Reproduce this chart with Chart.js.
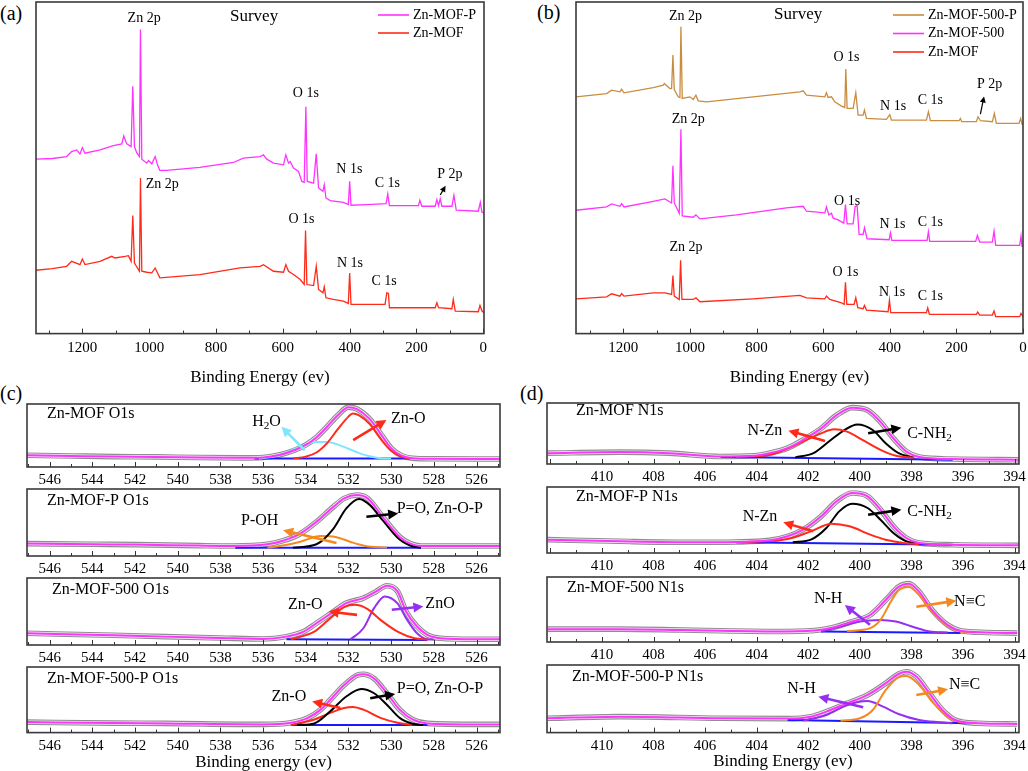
<!DOCTYPE html>
<html>
<head>
<meta charset="utf-8">
<script src="https://cdn.jsdelivr.net/npm/chart.js@4.4.1/dist/chart.umd.min.js"></script>
<style>
  body { margin:0; background:#fff; width:1028px; height:771px; position:relative; overflow:hidden; font-family:"Liberation Serif", "Times New Roman", serif; }
  canvas { position:absolute; }
  .tag { position:absolute; font-size:20px; line-height:20px; color:#000; }
</style>
</head>
<body>
<div class="tag" style="left:0px;top:3px">(a)</div>
<div class="tag" style="left:537px;top:2px">(b)</div>
<div class="tag" style="left:0px;top:383px">(c)</div>
<div class="tag" style="left:520px;top:383px">(d)</div>
<script>
// Обзорные спектры (a): [энергия связи, интенсивность]
const aMofP = [[1339,52.6],[1290,52.8],[1247,53.4],[1232,54.9],[1217,55.4],[1207,54.2],[1200,56.1],[1192,54.4],[1147,55.4],[1107,56.7],[1082,57.2],[1076,59.6],[1067,57.2],[1054,56.4],[1049,74.6],[1044,56.4],[1037,54.5],[1029,53.4],[1026,91.7],[1022,52.6],[1007,51.4],[1002,52.2],[992,51.2],[982,53.4],[975,50.9],[968,49.2],[948,49.2],[848,50.1],[748,51.6],[718,52.9],[668,53.4],[658,53.9],[648,52.6],[628,51.4],[598,50.9],[591,53.9],[583,51.4],[578,51.9],[568,49.9],[553,48.9],[543,45.9],[536,45.6],[531,68.4],[527,45.9],[508,45.4],[500,54.2],[493,43.9],[480,42.9],[476,44.9],[471,40.9],[458,40.1],[419,39.6],[404,38.9],[400,45.9],[396,38.7],[349,38.9],[291,39.2],[286,42.1],[281,38.6],[194,38.6],[190,40.2],[184,38.4],[144,38.4],[139,40.4],[134,38.6],[129,40.7],[124,38.4],[94,38.4],[88,41.7],[81,37.2],[15,36.9],[9,39.6],[4,36.6],[-2,36.4]];
const aMof = [[1339,19.1],[1290,19.6],[1247,20.3],[1232,21.8],[1207,20.8],[1200,22.5],[1192,20.8],[1147,21.8],[1112,23.3],[1102,22.8],[1072,23.3],[1062,23.5],[1054,21.8],[1049,35.6],[1044,21.3],[1029,18.8],[1026,46.9],[1022,18.8],[1007,18.5],[992,18.3],[982,19.8],[968,16.8],[848,17.8],[728,19.8],[668,20.3],[658,20.8],[628,18.8],[598,18.5],[591,20.8],[583,18.8],[568,17.8],[548,16.3],[536,14.8],[532,31.1],[528,14.8],[508,14.5],[500,20.3],[493,13.3],[480,12.3],[476,14.1],[471,10.8],[449,10.3],[419,9.8],[404,9.1],[400,18.3],[396,8.8],[294,8.8],[289,12.3],[284,12.1],[281,7.8],[144,7.8],[139,9.3],[134,7.8],[94,7.5],[90,10.3],[84,6.8],[15,6.6],[10,8.5],[4,6.8],[-2,6.3]];

// Обзорные спектры (b)
const bMof500P = [[1342,71.4],[1250,72.4],[1235,73.4],[1210,72.9],[1205,73.7],[1198,72.6],[1110,74.2],[1080,74.9],[1077,75.4],[1060,73.9],[1055,73.9],[1051,84.0],[1047,73.6],[1035,71.4],[1030,71.2],[1027,92.5],[1023,70.9],[1000,71.4],[990,70.6],[982,71.9],[975,70.2],[950,69.9],[810,71.4],[670,72.9],[660,73.2],[650,71.9],[595,71.4],[590,72.6],[585,71.2],[575,71.4],[565,69.9],[545,68.6],[535,68.2],[532,79.8],[528,67.9],[510,67.9],[502,72.6],[495,65.9],[480,65.9],[476,67.4],[470,64.9],[410,64.6],[400,66.0],[395,64.4],[290,64.4],[284,66.9],[278,64.2],[192,64.2],[188,64.9],[184,63.9],[140,63.9],[135,65.4],[128,64.2],[92,63.9],[86,66.4],[80,63.4],[12,63.4],[7,64.9],[3,63.2],[0,63.2]];
const bMof500 = [[1342,37.2],[1250,38.2],[1235,39.1],[1210,38.4],[1205,39.2],[1198,38.2],[1110,39.9],[1075,40.6],[1055,39.4],[1051,50.6],[1047,39.4],[1032,36.3],[1027,61.6],[1023,35.5],[990,35.1],[982,35.8],[970,34.6],[860,35.8],[710,37.9],[660,38.4],[650,36.9],[595,36.4],[590,38.2],[583,35.8],[575,36.3],[570,34.8],[555,34.3],[538,33.3],[533,38.9],[528,33.1],[510,33.1],[504,38.3],[498,38.6],[492,29.9],[480,29.9],[476,31.9],[468,28.6],[402,28.3],[398,30.4],[394,28.1],[288,28.1],[284,30.7],[280,27.8],[142,27.8],[137,29.6],[130,27.6],[92,27.6],[87,30.9],[82,26.6],[10,26.6],[6,29.4],[3,26.3],[0,26.3]];
const bMof = [[1342,10.5],[1250,11.1],[1235,12.0],[1210,11.3],[1205,12.1],[1198,11.3],[1110,12.3],[1075,12.3],[1055,11.8],[1051,17.5],[1047,11.3],[1032,10.3],[1028,22.1],[1024,10.3],[990,10.3],[982,10.8],[970,9.6],[810,10.5],[670,11.5],[650,10.8],[595,10.5],[590,11.3],[580,10.3],[545,9.3],[537,8.8],[533,15.5],[529,8.8],[507,8.8],[502,10.8],[496,7.8],[480,7.5],[476,8.5],[470,7.1],[405,6.6],[401,10.1],[397,6.3],[290,6.3],[286,7.8],[281,5.8],[140,5.8],[136,6.5],[130,5.6],[92,5.6],[87,6.8],[82,5.1],[10,5.1],[6,6.1],[0,5.1]];

// O1s (c)
const o1sMofRaw = [[547.1,18.6],[545,17.5],[543,16.5],[541,16],[539,15],[537,14.5],[536,15.2],[535.2,19.5],[534.5,27],[534,35],[533.5,47],[533,64],[532.5,82],[532,95],[531.6,92],[531,76],[530.5,53],[530,30],[529.5,18],[529,14],[528,13],[526,12.8],[524.9,12.8]];
const o1sMofZnO = [[534.6,13.3],[534,16.5],[533.5,23],[533,38],[532.5,60],[532,80],[531.8,85],[531.5,82],[531,68],[530.5,45],[530,26],[529.5,16],[529.1,13.3]];
const o1sMofH2O = [[536.2,13.3],[535.5,16.5],[535,21.5],[534.5,29],[534,35.5],[533.5,39.5],[533,39.5],[532.5,35.5],[532,29],[531.5,22],[531,17],[530.5,14],[530,13.3]];
const o1sMofBase = [[536.4,13.3],[529.1,13.3]];

const o1sMofPRaw = [[547.1,18.5],[544,17.5],[542,17],[539,15.5],[537.4,15],[535.8,17.5],[535.1,22.5],[534.3,32.5],[533.5,51],[532.7,73.5],[532.2,86],[531.6,91],[531.1,86],[530.4,58.5],[529.6,28.5],[529.1,18.5],[528.6,15],[526,15],[524.9,15]];
const o1sMofPPO = [[534.6,12.5],[533.5,17.5],[532.7,41],[532.1,71],[531.5,85],[531,76],[530.4,53.5],[529.6,24.5],[529,14.5],[528.6,12.5]];
const o1sMofPOH = [[535.8,12.5],[535,16],[534.3,21],[533.3,30],[532.6,28.5],[531.9,21],[531.2,15],[530.2,12.5]];
const o1sMofPBase = [[537.3,12.5],[528.6,12.5]];

const o1s500Raw = [[547.1,17.5],[543,14.5],[540.6,12.5],[538,10.5],[536,9],[534.9,12.5],[534.1,20],[533.5,32.5],[532.8,47.5],[532.1,62.5],[531.3,70],[530.7,80],[530.2,88.5],[529.7,80],[529.3,50],[528.8,28],[528.3,15],[527.7,10],[526,8.5],[524.9,8.5]];
const o1s500ZnO = [[534.7,8.5],[533.6,20],[532.85,40],[532.2,56.5],[531.7,60],[531.1,53.5],[530.5,37.5],[529.7,20],[528.9,10],[528.3,8]];
const o1s500Oxide = [[531.9,8.5],[531.3,25],[530.8,55],[530.3,72.5],[529.7,62],[529.3,40],[528.8,18],[528.3,8.5],[528,8]];
const o1s500Base = [[534.9,8.5],[528.3,7.5]];

const o1s500PRaw = [[547.1,16],[543,14.5],[540.6,14],[536,12.5],[534.7,15],[533.9,22.5],[533.3,35],[532.85,50],[532.2,72.5],[531.6,87.5],[531.3,89],[530.8,82.5],[530.2,60],[529.6,35],[529,20],[528.3,14],[526,12.5],[524.9,12.5]];
const o1s500PPO = [[534.4,11.5],[533.6,14],[532.85,32.5],[532.1,55],[531.4,66.5],[530.8,60],[530.2,42.5],[529.6,22.5],[529,13.5],[528.5,11.5]];
const o1s500PZnO = [[534.7,11.5],[533.6,20],[532.85,30],[532.2,37.5],[531.8,39],[531.3,35],[530.5,22.5],[529.7,15],[529,11.5]];
const o1s500PBase = [[534.7,11.5],[528.3,11.5]];

// N1s (d)
const n1sMofRaw = [[412.1,17.8],[409.3,19.5],[407.4,17.8],[405.4,12.4],[404.1,13.5],[403.5,17.8],[402.8,26],[402.2,39.5],[401.5,58.4],[400.9,80],[400.3,92.4],[399.7,88],[399.2,69],[398.7,42],[398.2,20.5],[397.7,11.4],[396.4,8.1],[393.8,7]];
const n1sMofNZn = [[404.8,11.4],[403.5,15],[402.2,36.8],[401.5,50.3],[401,56.8],[400.5,53],[399.9,39.5],[399.2,23.2],[398.6,13.5],[397.9,10.3]];
const n1sMofCNH2 = [[402.5,10.8],[401.8,17.8],[401.2,36.8],[400.6,55.7],[400.1,64.9],[399.5,55.7],[399,34],[398.5,17.8],[397.9,10.3]];
const n1sMofBase = [[405.4,11.4],[396.4,7]];

const n1sMofPRaw = [[412.1,20.2],[409.3,17.7],[406.7,16.2],[404.8,16.7],[403.5,19.2],[402.8,25.3],[402.2,35.4],[401.5,55.6],[400.9,78.3],[400.3,90.9],[399.7,85.9],[399.2,65.7],[398.7,40.4],[398.2,22.7],[397.7,15.2],[396.4,12.6],[393.8,11.6]];
const n1sMofPNZn = [[404.8,16.2],[402.8,21.2],[401.9,32.8],[401.1,44.4],[400.4,40.4],[399.6,27.8],[399,20.2],[398.3,15.2],[397.7,13.6]];
const n1sMofPCNH2 = [[402.6,16.2],[401.9,20.2],[401.3,37.9],[400.8,63.1],[400.3,74.7],[399.7,68.2],[399.2,50.5],[398.7,30.3],[398.2,17.7],[397.8,15]];
const n1sMofPBase = [[404.8,16.2],[396.4,12.6]];

const n1s500Raw = [[412.1,19.8],[409.3,19.8],[405.4,17.3],[402.8,16.2],[401.5,18.8],[400.9,23.9],[400.3,31.5],[399.6,41.6],[399,64.5],[398.5,84.8],[398.1,89.8],[397.7,77.2],[397.2,49.2],[396.6,26.4],[396.1,17.3],[395.1,14.7],[393.9,13.7]];
const n1s500NC = [[400.5,16.8],[399.6,21.3],[399.2,34],[398.8,61.9],[398.5,79.7],[398.1,84.8],[397.7,72.1],[397.2,46.7],[396.6,24.9],[396.1,16.2],[395.6,14.7]];
const n1s500NH = [[401.5,16.2],[400.75,23.9],[400,31.5],[399.2,34],[398.6,31.5],[397.9,22.8],[397.3,16.2],[396.6,14.7]];
const n1s500Base = [[401.5,16.2],[396.1,13.7]];

const n1s500PRaw = [[412.1,21.2],[409.3,23.6],[405.4,21.2],[402.8,20.7],[401.9,23.6],[401.3,31],[400.5,43.3],[399.7,55.7],[399,72.9],[398.5,86.7],[398.2,90.1],[397.8,82.8],[397.3,58.1],[396.8,33.5],[396.3,18.7],[395.4,13.8],[393.9,12.8]];
const n1s500PNC = [[400.75,17.7],[400,21.2],[399.5,33.5],[399,63],[398.5,81.8],[398.2,83.7],[397.7,70.4],[397.2,45.8],[396.6,23.6],[396.1,15.3],[395.6,13.8]];
const n1s500PNH = [[402.2,17.7],[401.3,26.1],[400.5,40.9],[399.7,46.8],[399.1,38.4],[398.5,27.6],[397.7,18.7],[396.9,15.3],[396.4,13.8]];
const n1s500PBase = [[402.8,18.7],[395.7,13.8]];

// Цвета
const MAGENTA = '#ff33ff', RED = '#ff2a1a', BROWN = '#c98d40', BLUE = '#1a1aff';
const CYAN = '#80e6ff', ORANGE = '#f5891f', PURPLE = '#9431f0', BLACK = '#000000';
const FONT = '"Liberation Serif", "Times New Roman", serif';

// Текст с нижним индексом: "H_2O"
function drawLabel(ctx, str, x, y, size, align) {
    const parts = [];
    for (let i = 0; i < str.length; i++) {
        if (str[i] === '_') { parts.push([str[i + 1], true]); i++; }
        else if (parts.length && !parts[parts.length - 1][1]) parts[parts.length - 1][0] += str[i];
        else parts.push([str[i], false]);
    }
    let w = 0;
    parts.forEach(p => { ctx.font = (p[1] ? size * 0.7 : size) + 'px ' + FONT; w += ctx.measureText(p[0]).width; });
    let cx = align === 'left' ? x : x - w / 2;
    ctx.textAlign = 'left';
    ctx.textBaseline = 'middle';
    ctx.fillStyle = '#000';
    parts.forEach(p => {
        ctx.font = (p[1] ? size * 0.7 : size) + 'px ' + FONT;
        ctx.fillText(p[0], cx, p[1] ? y + size * 0.3 : y);
        cx += ctx.measureText(p[0]).width;
    });
}

function drawArrow(ctx, x1, y1, x2, y2, color, small) {
    const ang = Math.atan2(y2 - y1, x2 - x1);
    const head = small ? 6 : 10, hw = small ? 3 : 5;
    ctx.strokeStyle = color;
    ctx.fillStyle = color;
    ctx.lineWidth = small ? 1.2 : 2.6;
    ctx.beginPath();
    ctx.moveTo(x1, y1);
    ctx.lineTo(x2 - Math.cos(ang) * head * 0.8, y2 - Math.sin(ang) * head * 0.8);
    ctx.stroke();
    ctx.beginPath();
    ctx.moveTo(x2, y2);
    ctx.lineTo(x2 - head * Math.cos(ang) + hw * Math.sin(ang), y2 - head * Math.sin(ang) - hw * Math.cos(ang));
    ctx.lineTo(x2 - head * Math.cos(ang) - hw * Math.sin(ang), y2 - head * Math.sin(ang) + hw * Math.cos(ang));
    ctx.closePath();
    ctx.fill();
}

// Плагин: рамка, внутренние засечки, подписи, стрелки, легенда
const decorPlugin = {
    id: 'decor',
    afterDatasetsDraw(chart, args, opts) {
        const ctx = chart.ctx, a = chart.chartArea, xs = chart.scales.x;
        ctx.save();
        ctx.strokeStyle = '#333';
        ctx.lineWidth = 1;
        const start = Math.ceil(xs.min / opts.minor) * opts.minor;
        for (let v = start; v <= xs.max + 1e-9; v += opts.minor) {
            const px = Math.round(xs.getPixelForValue(v)) + 0.5;
            const r = v / opts.major;
            const len = Math.abs(r - Math.round(r)) < 1e-6 ? 5 : 3;
            ctx.beginPath();
            ctx.moveTo(px, a.bottom);
            ctx.lineTo(px, a.bottom - len);
            ctx.stroke();
        }
        ctx.lineWidth = 1.6;
        ctx.strokeStyle = '#3a3a3a';
        ctx.strokeRect(a.left, a.top, a.right - a.left, a.bottom - a.top);
        ctx.restore();
    },
    afterDraw(chart, args, opts) {
        const ctx = chart.ctx, a = chart.chartArea, xs = chart.scales.x, ys = chart.scales.y;
        ctx.save();
        (opts.arrows || []).forEach(ar => {
            drawArrow(ctx, xs.getPixelForValue(ar.x1), ys.getPixelForValue(ar.y1),
                xs.getPixelForValue(ar.x2), ys.getPixelForValue(ar.y2), ar.color, ar.small);
        });
        (opts.texts || []).forEach(t => {
            drawLabel(ctx, t.t, xs.getPixelForValue(t.x), ys.getPixelForValue(t.y), t.size || 16, 'center');
        });
        (opts.notes || []).forEach(n => {
            drawLabel(ctx, n.t, a.left + n.dx, a.top + n.dy, n.size || 16, 'left');
        });
        (opts.legend || []).forEach((l, i) => {
            const y = a.top + opts.legendTop + i * opts.legendStep;
            ctx.strokeStyle = l.color;
            ctx.lineWidth = 1.6;
            ctx.beginPath();
            ctx.moveTo(a.right - opts.legendX, y);
            ctx.lineTo(a.right - opts.legendX + 31, y);
            ctx.stroke();
            drawLabel(ctx, l.t, a.right - opts.legendX + 35, y, 14, 'left');
        });
        ctx.restore();
    }
};
Chart.register(decorPlugin);

function line(data, color, width, order, smooth) {
    return {
        data: data.map(p => ({ x: p[0], y: p[1] })),
        borderColor: color,
        borderWidth: width,
        pointRadius: 0,
        fill: false,
        order: order,
        tension: 0,
        cubicInterpolationMode: smooth ? 'monotone' : 'default'
    };
}

// Экспериментальные точки + огибающая
function spectrum(raw) {
    return [
        line(raw, '#8e8e8e', 5.6, 10, true),
        line(raw, '#f0f0f0', 3.4, 9, true),
        line(raw, MAGENTA, 2, 1, true)
    ];
}

function makePanel(cfg) {
    const padL = cfg.padL || 2, padR = cfg.padR || 2, padT = 2;
    let axisH = 18 + 2 * cfg.tickPad;
    if (cfg.title) axisH += 17 * 1.2 + cfg.titlePad[0] + cfg.titlePad[1];
    const cv = document.createElement('canvas');
    const w = cfg.area.r - cfg.area.l + padL + padR;
    const h = Math.round(cfg.area.b - cfg.area.t + padT + axisH);
    cv.width = w;
    cv.height = h;
    cv.style.left = (cfg.area.l - padL) + 'px';
    cv.style.top = (cfg.area.t - padT) + 'px';
    cv.style.width = w + 'px';
    cv.style.height = h + 'px';
    document.body.appendChild(cv);

    return new Chart(cv, {
        type: 'line',
        data: { datasets: cfg.datasets },
        options: {
            responsive: false,
            animation: false,
            layout: { padding: { left: padL, right: padR, top: padT, bottom: 0 } },
            plugins: {
                legend: { display: false },
                tooltip: { enabled: false },
                decor: Object.assign({ major: cfg.major, minor: cfg.minor }, cfg.decor)
            },
            scales: {
                x: {
                    type: 'linear',
                    reverse: true,
                    min: cfg.xMin,
                    max: cfg.xMax,
                    grid: { display: false, drawTicks: false },
                    border: { display: false },
                    ticks: {
                        stepSize: cfg.major,
                        includeBounds: false,
                        autoSkip: false,
                        maxRotation: 0,
                        padding: cfg.tickPad,
                        color: '#000',
                        font: { family: FONT, size: 15, lineHeight: 1.2 },
                        callback: v => (cfg.hideAbove !== undefined && v > cfg.hideAbove) ? '' : String(v)
                    },
                    title: {
                        display: !!cfg.title,
                        text: cfg.title || '',
                        color: '#000',
                        font: { family: FONT, size: 17, lineHeight: 1.2 },
                        padding: { top: cfg.title ? cfg.titlePad[0] : 0, bottom: cfg.title ? cfg.titlePad[1] : 0 }
                    },
                    afterFit: s => { s.paddingLeft = 0; s.paddingRight = 0; }
                },
                y: { display: false, min: 0, max: 100 }
            }
        }
    });
}

// (a) обзор
makePanel({
    area: { l: 36, r: 484, t: 2, b: 334 }, padR: 6,
    xMin: -2, xMax: 1338.6, major: 200, minor: 100, tickPad: 5,
    title: 'Binding Energy (ev)', titlePad: [6, 2],
    datasets: [line(aMofP, MAGENTA, 1.3, 1, false), line(aMof, RED, 1.3, 2, false)],
    decor: {
        texts: [
            { t: 'Zn 2p', x: 1015, y: 95, size: 14 }, { t: 'Survey', x: 686, y: 95.5, size: 17 },
            { t: 'O 1s', x: 531, y: 72.4, size: 14 }, { t: 'N 1s', x: 401, y: 49.4, size: 14 },
            { t: 'C 1s', x: 287, y: 45.2, size: 14 }, { t: 'P 2p', x: 100, y: 47.9, size: 14 },
            { t: 'Zn 2p', x: 961, y: 44.9, size: 14 }, { t: 'O 1s', x: 544, y: 34.4, size: 14 },
            { t: 'N 1s', x: 399, y: 21.3, size: 14 }, { t: 'C 1s', x: 297, y: 15.8, size: 14 }
        ],
        arrows: [{ x1: 129, y1: 41.8, x2: 113, y2: 44.6, color: BLACK, small: true }],
        legend: [{ t: 'Zn-MOF-P', color: MAGENTA }, { t: 'Zn-MOF', color: RED }],
        legendX: 106, legendTop: 13, legendStep: 18
    }
});

// (b) обзор
makePanel({
    area: { l: 576, r: 1023, t: 2, b: 334 }, padR: 5,
    xMin: 0, xMax: 1342, major: 200, minor: 100, tickPad: 5,
    title: 'Binding Energy (ev)', titlePad: [6, 2],
    datasets: [line(bMof500P, BROWN, 1.3, 1, false), line(bMof500, MAGENTA, 1.3, 2, false), line(bMof, RED, 1.3, 3, false)],
    decor: {
        texts: [
            { t: 'Zn 2p', x: 1013, y: 95.7, size: 14 }, { t: 'Survey', x: 675, y: 96.3, size: 17 },
            { t: 'O 1s', x: 530, y: 83.3, size: 14 }, { t: 'N 1s', x: 390, y: 68.6, size: 14 },
            { t: 'C 1s', x: 278, y: 70.4, size: 14 }, { t: 'P 2p', x: 100, y: 75.3, size: 14 },
            { t: 'Zn 2p', x: 1005, y: 64.6, size: 14 }, { t: 'O 1s', x: 528, y: 39.9, size: 14 },
            { t: 'N 1s', x: 392, y: 32.9, size: 14 }, { t: 'C 1s', x: 278, y: 33.6, size: 14 },
            { t: 'Zn 2p', x: 1012, y: 25.9, size: 14 }, { t: 'O 1s', x: 533, y: 18.5, size: 14 },
            { t: 'N 1s', x: 393, y: 12.5, size: 14 }, { t: 'C 1s', x: 278, y: 11.3, size: 14 }
        ],
        arrows: [{ x1: 128, y1: 66.2, x2: 117, y2: 71.5, color: BLACK, small: true }],
        legend: [{ t: 'Zn-MOF-500-P', color: BROWN }, { t: 'Zn-MOF-500', color: MAGENTA }, { t: 'Zn-MOF', color: RED }],
        legendX: 130, legendTop: 13, legendStep: 18.5
    }
});

// (c) O1s
const cBase = { xMin: 524.9, xMax: 547.06, major: 2, minor: 1, tickPad: 4 };
makePanel(Object.assign({}, cBase, {
    area: { l: 27, r: 500, t: 404, b: 467 },
    datasets: spectrum(o1sMofRaw).concat([line(o1sMofZnO, RED, 2, 3, true), line(o1sMofH2O, CYAN, 2, 4, true), line(o1sMofBase, BLUE, 2, 5, false)]),
    decor: {
        notes: [{ t: 'Zn-MOF O1s', dx: 20, dy: 10 }],
        texts: [{ t: 'H_2O', x: 535.84, y: 72 }, { t: 'Zn-O', x: 529.2, y: 77 }],
        arrows: [{ x1: 534.05, y1: 26.6, x2: 535.14, y2: 64, color: CYAN }, { x1: 531.78, y1: 42.5, x2: 530.22, y2: 74.5, color: RED }]
    }
}));
makePanel(Object.assign({}, cBase, {
    area: { l: 27, r: 500, t: 489, b: 556 },
    datasets: spectrum(o1sMofPRaw).concat([line(o1sMofPPO, BLACK, 2, 3, true), line(o1sMofPOH, ORANGE, 2, 4, true), line(o1sMofPBase, BLUE, 2, 5, false)]),
    decor: {
        notes: [{ t: 'Zn-MOF-P O1s', dx: 20, dy: 12 }],
        texts: [{ t: 'P-OH', x: 536.16, y: 52 }, { t: 'P=O, Zn-O-P', x: 527.72, y: 71 }],
        arrows: [{ x1: 532.56, y1: 19.5, x2: 535.06, y2: 38.5, color: ORANGE }, { x1: 531.16, y1: 58.5, x2: 529.67, y2: 63.5, color: BLACK }]
    }
}));
makePanel(Object.assign({}, cBase, {
    area: { l: 27, r: 500, t: 578, b: 645 },
    datasets: spectrum(o1s500Raw).concat([line(o1s500ZnO, RED, 2, 3, true), line(o1s500Oxide, PURPLE, 2, 4, true), line(o1s500Base, BLUE, 2, 5, false)]),
    decor: {
        notes: [{ t: 'Zn-MOF-500 O1s', dx: 25, dy: 12 }],
        texts: [{ t: 'Zn-O', x: 534.02, y: 60 }, { t: 'ZnO', x: 527.71, y: 61 }],
        arrows: [{ x1: 531.6, y1: 45, x2: 532.93, y2: 50, color: RED }, { x1: 529.97, y1: 52.5, x2: 528.49, y2: 57.5, color: PURPLE }]
    }
}));
makePanel(Object.assign({}, cBase, {
    area: { l: 27, r: 500, t: 667, b: 733 },
    title: 'Binding energy (ev)', titlePad: [-6, 0],
    datasets: spectrum(o1s500PRaw).concat([line(o1s500PPO, BLACK, 2, 3, true), line(o1s500PZnO, RED, 2, 4, true), line(o1s500PBase, BLUE, 2, 5, false)]),
    decor: {
        notes: [{ t: 'Zn-MOF-500-P O1s', dx: 20, dy: 12 }],
        texts: [{ t: 'Zn-O', x: 534.79, y: 55 }, { t: 'P=O, Zn-O-P', x: 527.71, y: 67.5 }],
        arrows: [{ x1: 532.38, y1: 37.5, x2: 533.7, y2: 47.5, color: RED }, { x1: 530.98, y1: 52.5, x2: 529.81, y2: 59, color: BLACK }]
    }
}));

// (d) N1s
const dBase = { xMin: 393.83, xMax: 412.13, major: 2, minor: 1, tickPad: 4, hideAbove: 411, padR: 8 };
makePanel(Object.assign({}, dBase, {
    area: { l: 547, r: 1019, t: 403, b: 464 },
    datasets: spectrum(n1sMofRaw).concat([line(n1sMofNZn, RED, 2, 3, true), line(n1sMofCNH2, BLACK, 2, 4, true), line(n1sMofBase, BLUE, 2, 5, false)]),
    decor: {
        notes: [{ t: 'Zn-MOF N1s', dx: 29, dy: 8 }],
        texts: [{ t: 'N-Zn', x: 403.68, y: 54.6 }, { t: 'C-NH_2', x: 397.3, y: 50.3 }],
        arrows: [{ x1: 401.35, y1: 37.8, x2: 402.77, y2: 54.6, color: RED }, { x1: 399.68, y1: 50.3, x2: 398.39, y2: 59.5, color: BLACK }]
    }
}));
makePanel(Object.assign({}, dBase, {
    area: { l: 547, r: 1019, t: 487, b: 553 },
    datasets: spectrum(n1sMofPRaw).concat([line(n1sMofPNZn, RED, 2, 3, true), line(n1sMofPCNH2, BLACK, 2, 4, true), line(n1sMofPBase, BLUE, 2, 5, false)]),
    decor: {
        notes: [{ t: 'Zn-MOF-P N1s', dx: 29, dy: 10 }],
        texts: [{ t: 'N-Zn', x: 403.87, y: 55.6 }, { t: 'C-NH_2', x: 397.3, y: 63 }],
        arrows: [{ x1: 401.81, y1: 32.8, x2: 402.97, y2: 46.5, color: RED }, { x1: 399.68, y1: 58, x2: 398.39, y2: 65.7, color: BLACK }]
    }
}));
makePanel(Object.assign({}, dBase, {
    area: { l: 547, r: 1019, t: 577, b: 642 },
    datasets: spectrum(n1s500Raw).concat([line(n1s500NC, ORANGE, 2, 3, true), line(n1s500NH, PURPLE, 2, 4, true), line(n1s500Base, BLUE, 2, 5, false)]),
    decor: {
        notes: [{ t: 'Zn-MOF-500 N1s', dx: 20, dy: 11 }],
        texts: [{ t: 'N-H', x: 401.23, y: 67 }, { t: 'N≡C', x: 395.74, y: 62 }],
        arrows: [{ x1: 399.61, y1: 26.4, x2: 400.58, y2: 56.9, color: PURPLE }, { x1: 397.81, y1: 54.3, x2: 396.26, y2: 63.5, color: ORANGE }]
    }
}));
makePanel(Object.assign({}, dBase, {
    area: { l: 547, r: 1019, t: 665, b: 733 },
    title: 'Binding Energy (ev)', titlePad: [-7, 0],
    datasets: spectrum(n1s500PRaw).concat([line(n1s500PNC, ORANGE, 2, 3, true), line(n1s500PNH, PURPLE, 2, 4, true), line(n1s500PBase, BLUE, 2, 5, false)]),
    decor: {
        notes: [{ t: 'Zn-MOF-500-P N1s', dx: 25, dy: 12 }],
        texts: [{ t: 'N-H', x: 402.26, y: 65.5 }, { t: 'N≡C', x: 395.94, y: 70.4 }],
        arrows: [{ x1: 399.87, y1: 37.4, x2: 401.61, y2: 53.2, color: PURPLE }, { x1: 397.81, y1: 55.7, x2: 396.58, y2: 64, color: ORANGE }]
    }
}));
</script>
</body>
</html>
